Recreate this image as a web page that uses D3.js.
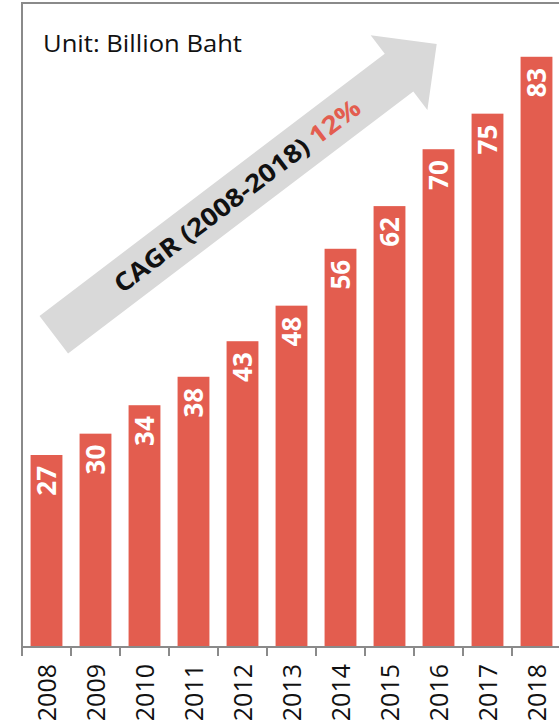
<!DOCTYPE html>
<html>
<head>
<meta charset="utf-8">
<script src="https://cdn.jsdelivr.net/npm/d3@7"></script>
<style>
  html, body { margin: 0; padding: 0; background: #fff; }
  svg { display: block; }
</style>
</head>
<body>
<svg id="chart" width="559" height="726"></svg>
<script>
const years = ["2008","2009","2010","2011","2012","2013","2014","2015","2016","2017","2018"];
const values = [27, 30, 34, 38, 43, 48, 56, 62, 70, 75, 83];
const yDomain = [0, 90];
const unitLabel = "Unit: Billion Baht";
const cagrLabel = "CAGR (2008-2018) ";
const cagrValue = "12%";

(function () {
const W = 559;
const plotLeft = 22, plotRight = 561, plotTop = 3, base = 647;
const barColor = "#e35d4f";
const font = "'Open Sans', 'DejaVu Sans', sans-serif";

const svg = d3.select("#chart");

const x = d3.scaleBand().domain(years).range([plotLeft, plotRight]).paddingInner(0.35).paddingOuter(0.175);
const y = d3.scaleLinear().domain(yDomain).range([base, 7]);

// arrow (behind bars)
const tail = [53.8, 334.7], tip = [436.7, 44];
const ang = Math.atan2(tip[1] - tail[1], tip[0] - tail[0]) * 180 / Math.PI;
const L = Math.hypot(tip[0] - tail[0], tip[1] - tail[1]);
const hw = 23.6, headW = 46.9, headL = 47.3;
const ag = svg.append("g").attr("transform", `translate(${tail[0]},${tail[1]}) rotate(${ang})`);
ag.append("polygon")
  .attr("points", [[0,-hw],[L-headL,-hw],[L-headL,-headW],[L,0],[L-headL,headW],[L-headL,hw],[0,hw]].map(p => p.join(",")).join(" "))
  .attr("fill", "#d9d9d9");
const at = ag.append("text")
  .attr("x", 230).attr("y", 0).attr("dy", "0.36em")
  .attr("text-anchor", "middle")
  .attr("font-family", font).attr("font-weight", "bold").attr("font-size", 25)
  .attr("textLength", 302).attr("lengthAdjust", "spacingAndGlyphs");
at.append("tspan").attr("fill", "#111").text(cagrLabel);
at.append("tspan").attr("fill", barColor).text(cagrValue);

// bars
svg.selectAll("rect.bar").data(values).enter().append("rect")
  .attr("class", "bar")
  .attr("x", (d, i) => x(years[i]))
  .attr("y", d => y(d))
  .attr("width", x.bandwidth())
  .attr("height", d => base - y(d))
  .attr("fill", barColor);

// value labels
svg.selectAll("text.val").data(values).enter().append("text")
  .attr("class", "val")
  .attr("transform", (d, i) => `translate(${x(years[i]) + x.bandwidth()/2},${y(d) + 11}) rotate(-90)`)
  .attr("dy", "0.36em")
  .attr("text-anchor", "end")
  .attr("font-family", font).attr("font-weight", "bold").attr("font-size", 26)
  .attr("fill", "#fff")
  .text(d => d);

// frame lines
svg.append("line").attr("x1", plotLeft).attr("x2", W).attr("y1", plotTop).attr("y2", plotTop)
  .attr("stroke", "#8a8a8a").attr("stroke-width", 2);
svg.append("line").attr("x1", plotLeft).attr("x2", plotLeft).attr("y1", plotTop - 1).attr("y2", base)
  .attr("stroke", "#8a8a8a").attr("stroke-width", 2);
svg.append("line").attr("x1", plotLeft - 1).attr("x2", W).attr("y1", base).attr("y2", base)
  .attr("stroke", "#8a8a8a").attr("stroke-width", 2);

// ticks at band boundaries
const off = (x.step() - x.bandwidth()) / 2;
const tickXs = years.map(yr => x(yr) - off);
svg.selectAll("line.tick").data(tickXs).enter().append("line")
  .attr("x1", d => d).attr("x2", d => d).attr("y1", base).attr("y2", base + 9)
  .attr("stroke", "#8a8a8a").attr("stroke-width", 2);

// year labels
svg.selectAll("text.yr").data(years).enter().append("text")
  .attr("class", "yr")
  .attr("transform", d => `translate(${x(d) + x.bandwidth()/2},664) rotate(-90)`)
  .attr("dy", "0.36em")
  .attr("text-anchor", "end")
  .attr("font-family", font).attr("font-size", 25)
  .attr("fill", "#111")
  .text(d => d);

// unit label
svg.append("text").attr("x", 43).attr("y", 52)
  .attr("font-family", font).attr("font-size", 23)
  .attr("textLength", 199).attr("lengthAdjust", "spacingAndGlyphs")
  .attr("fill", "#111")
  .text(unitLabel);
})();
</script>
</body>
</html>
